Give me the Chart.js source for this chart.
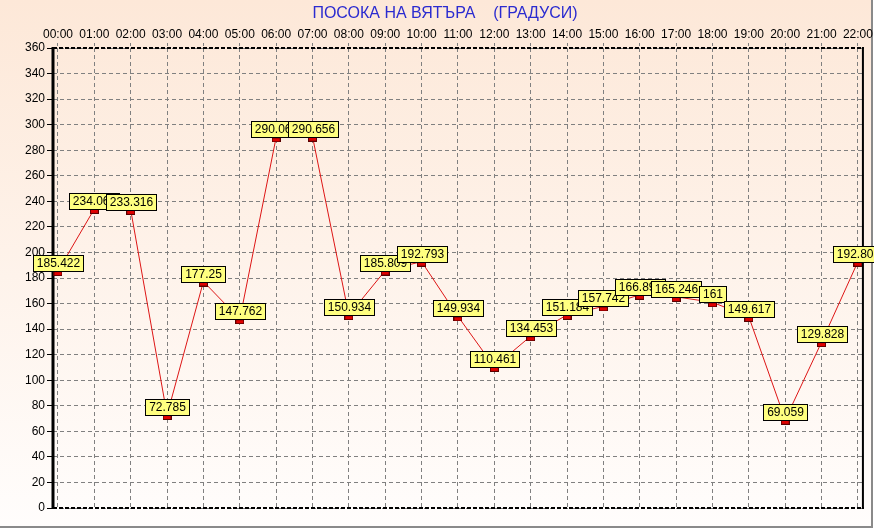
<!DOCTYPE html>
<html><head><meta charset="utf-8">
<script src="https://cdn.jsdelivr.net/npm/chart.js@4/dist/chart.umd.min.js"></script>
<style>
html,body{margin:0;padding:0;background:#fff;}
#wrap{position:relative;width:874px;height:529px;overflow:hidden;}
#bg{position:absolute;left:0;top:0;width:871px;height:526px;background:linear-gradient(#fde8d8,#fffdfc);border-right:2px solid #8a8a8a;border-bottom:2px solid #8a8a8a;}
canvas{position:absolute;left:0;top:0;}
</style></head><body>
<div id="wrap"><div id="bg"></div><canvas id="c" width="874" height="529"></canvas></div>
<script>
const chartTitle = 'ПОСОКА НА ВЯТЪРА    (ГРАДУСИ)';
const hours = ['00:00','01:00','02:00','03:00','04:00','05:00','06:00','07:00','08:00','09:00','10:00','11:00',
               '12:00','13:00','14:00','15:00','16:00','17:00','18:00','19:00','20:00','21:00','22:00'];
const direction = [185.422, 234.068, 233.316, 72.785, 177.25, 147.762, 290.068, 290.656, 150.934, 185.809, 192.793, 149.934,
                   110.461, 134.453, 151.184, 157.742, 166.893, 165.246, 161, 149.617, 69.059, 129.828, 192.809];
const yMin = 0, yMax = 360, yStep = 20;

const FONT = 'Arial, "Liberation Sans", sans-serif';

// marker: red rectangle hanging just below the value position
const mk = document.createElement('canvas'); mk.width = 9; mk.height = 10;
const m = mk.getContext('2d');
m.fillStyle = '#5a0000'; m.fillRect(0, 5, 9, 5);
m.fillStyle = '#e00000'; m.fillRect(1, 6, 7, 3);

const frame = {
  id: 'frame',
  beforeDatasetsDraw(chart) {
    const {ctx, chartArea: a} = chart;
    ctx.save();
    ctx.strokeStyle = '#000';
    ctx.lineWidth = 2;
    ctx.setLineDash([4, 2]);
    ctx.beginPath(); ctx.moveTo(a.left, a.top); ctx.lineTo(a.right, a.top); ctx.stroke();
    ctx.beginPath(); ctx.moveTo(a.left, a.bottom); ctx.lineTo(a.right, a.bottom); ctx.stroke();
    ctx.setLineDash([]);
    ctx.beginPath(); ctx.moveTo(a.right - 1, a.top - 1); ctx.lineTo(a.right - 1, a.bottom + 1); ctx.stroke();
    ctx.lineWidth = 3;
    ctx.beginPath(); ctx.moveTo(a.left, a.top - 1); ctx.lineTo(a.left, a.bottom + 1); ctx.stroke();
    ctx.restore();
  }
};

const valueLabels = {
  id: 'valueLabels',
  afterDatasetsDraw(chart) {
    const ctx = chart.ctx;
    const meta = chart.getDatasetMeta(0);
    ctx.save();
    ctx.font = '12px ' + FONT;
    ctx.textAlign = 'center';
    ctx.textBaseline = 'middle';
    meta.data.forEach((pt, i) => {
      const txt = String(direction[i]);
      const w = Math.round(ctx.measureText(txt).width) + 7;
      const h = 16;
      const x = Math.round(pt.x - w / 2) + 0.5;
      const y = Math.round(pt.y) - h + 0.5;
      ctx.fillStyle = '#ffff80';
      ctx.fillRect(x, y, w, h);
      ctx.strokeStyle = '#000';
      ctx.lineWidth = 1;
      ctx.strokeRect(x, y, w, h);
      ctx.fillStyle = '#000';
      ctx.fillText(txt, x + w / 2, y + h / 2 + 0.5);
    });
    ctx.restore();
  }
};

new Chart(document.getElementById('c'), {
  type: 'line',
  data: {
    datasets: [{
      data: direction.map((v, i) => ({x: i, y: v})),
      borderColor: '#dd1515',
      borderWidth: 1,
      pointStyle: mk,
      pointRadius: 5,
      tension: 0,
      fill: false
    }]
  },
  options: {
    responsive: false,
    devicePixelRatio: 1,
    animation: false,
    events: [],
    layout: {padding: {left: 24, right: 8, top: 0, bottom: 21}},
    plugins: {
      legend: {display: false},
      tooltip: {enabled: false},
      title: {
        display: true,
        text: chartTitle,
        color: '#2b2bd0',
        font: {family: FONT, size: 16, weight: 'normal'},
        padding: {top: 4, bottom: 0}
      }
    },
    scales: {
      x: {
        type: 'linear',
        position: 'top',
        min: -0.137,
        max: 22.165,
        afterFit: s => { s.height = 24.8; },
        ticks: {
          stepSize: 1,
          includeBounds: false,
          autoSkip: false,
          maxRotation: 0,
          padding: 1,
          color: '#000',
          font: {family: FONT, size: 12},
          callback: v => (Number.isInteger(v) && hours[v] !== undefined) ? hours[v] : ''
        },
        grid: {color: '#808080', lineWidth: 1, tickLength: 5, tickColor: '#808080', tickBorderDash: [3, 2]},
        border: {display: false, dash: [4, 3]}
      },
      y: {
        min: yMin,
        max: yMax,
        afterFit: s => { s.width = 29; },
        ticks: {
          stepSize: yStep,
          padding: 2,
          color: '#000',
          font: {family: FONT, size: 12}
        },
        grid: {color: '#808080', lineWidth: 1, tickLength: 6, tickColor: '#000'},
        border: {display: false, dash: [4, 3]}
      }
    }
  },
  plugins: [frame, valueLabels]
});
</script>
</body></html>
